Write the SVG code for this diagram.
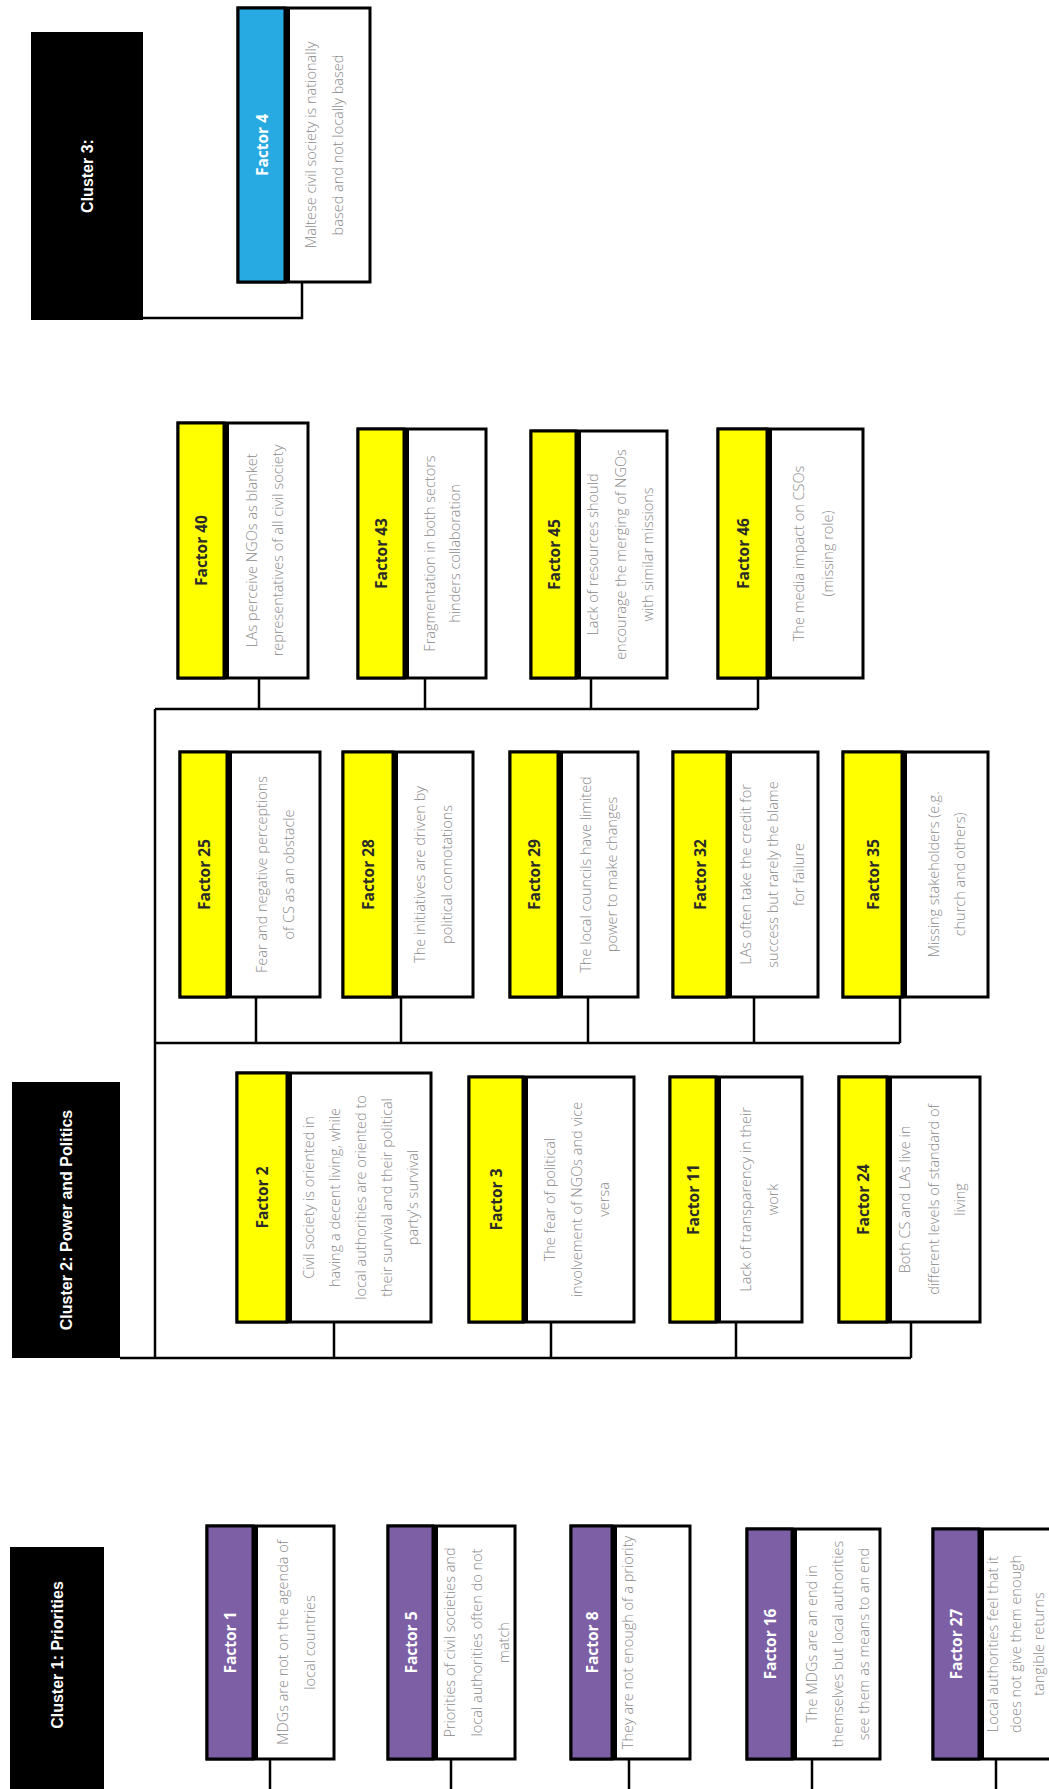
<svg xmlns="http://www.w3.org/2000/svg" width="1049" height="1789" viewBox="0 0 1049 1789">
<style>
.bg{fill:#fff}
.cl{fill:#000}
.clt{font-family:"Liberation Sans",Arial,sans-serif;font-weight:bold;font-size:16px;fill:#fff;text-anchor:middle;dominant-baseline:central}
.box{fill:#fff;stroke:#000;stroke-width:3}
.yel{fill:#FFFF00;stroke:#000;stroke-width:3}
.pur{fill:#7D5FA6;stroke:#000;stroke-width:3}
.blu{fill:#27AAE1;stroke:#000;stroke-width:3}
.div{stroke:#000;stroke-width:5}
.hd{font-family:"Open Sans","DejaVu Sans",sans-serif;font-weight:bold;font-size:15.5px;text-anchor:middle;dominant-baseline:central}
.hdk{fill:#2a2a2a}
.hdw{fill:#fff}
.bd{font-family:"Open Sans","DejaVu Sans",sans-serif;font-weight:300;font-size:14.5px;fill:#8a8a8a;text-anchor:middle;dominant-baseline:central}
.cn{fill:none;stroke:#000;stroke-width:2.5}
</style>
<rect class="bg" x="0" y="0" width="1049" height="1789"/>

<g id="connectors">
<path class="cn" d="M143,318 H302 V282"/>
<path class="cn" d="M155,709 V1358 M120,1358 H911"/>
<path class="cn" d="M334,1322 V1358 M551,1322 V1358 M736,1322 V1358 M911,1322 V1358"/>
<path class="cn" d="M155,1043 H900 M256,997 V1043 M401,997 V1043 M588,997 V1043 M754,997 V1043 M900,997 V1043"/>
<path class="cn" d="M155,709 H758 M259,678 V709 M425,678 V709 M591,678 V709 M758,678 V709"/>
<path class="cn" d="M270,1759 V1789 M451,1759 V1789 M629,1759 V1789 M812,1759 V1789 M996,1759 V1789"/>
</g>

<g id="cluster3">
<rect class="cl" x="31" y="32" width="112" height="288"/>
<text class="clt" transform="translate(87 176) rotate(-90)">Cluster 3:</text>
</g>
<g id="cluster2">
<rect class="cl" x="12" y="1082" width="108" height="276"/>
<text class="clt" transform="translate(66 1220) rotate(-90)">Cluster 2: Power and Politics</text>
</g>
<g id="cluster1">
<rect class="cl" x="10" y="1547" width="94" height="260"/>
<text class="clt" transform="translate(57 1655) rotate(-90)">Cluster 1: Priorities</text>
</g>

<g id="factor4">
<rect class="box" x="238" y="8" width="132" height="274"/>
<rect class="blu" x="238" y="8" width="47" height="274"/>
<line class="div" x1="287.5" y1="8" x2="287.5" y2="282"/>
<text class="hd hdw" transform="translate(261.5 145) rotate(-90)">Factor 4</text>
<text class="bd" transform="translate(310 145) rotate(-90)">Maltese civil society is nationally</text>
<text class="bd" transform="translate(337 145) rotate(-90)">based and not locally based</text>
</g>

<g id="factor40">
<rect class="box" x="178" y="423" width="130" height="255"/>
<rect class="yel" x="178" y="423" width="46" height="255"/>
<line class="div" x1="226.5" y1="423" x2="226.5" y2="678"/>
<text class="hd hdk" transform="translate(201 550.5) rotate(-90)">Factor 40</text>
<text class="bd" transform="translate(251 550.5) rotate(-90)">LAs perceive NGOs as blanket</text>
<text class="bd" transform="translate(277 550.5) rotate(-90)">representatives of all civil society</text>
</g>
<g id="factor43">
<rect class="box" x="358" y="429" width="128" height="249"/>
<rect class="yel" x="358" y="429" width="46" height="249"/>
<line class="div" x1="406.5" y1="429" x2="406.5" y2="678"/>
<text class="hd hdk" transform="translate(381 553.5) rotate(-90)">Factor 43</text>
<text class="bd" transform="translate(429 553.5) rotate(-90)">Fragmentation in both sectors</text>
<text class="bd" transform="translate(454 553.5) rotate(-90)">hinders collaboration</text>
</g>
<g id="factor45">
<rect class="box" x="531" y="431" width="136" height="247"/>
<rect class="yel" x="531" y="431" width="45" height="247"/>
<line class="div" x1="578.5" y1="431" x2="578.5" y2="678"/>
<text class="hd hdk" transform="translate(553.5 554.5) rotate(-90)">Factor 45</text>
<text class="bd" transform="translate(592 554.5) rotate(-90)">Lack of resources should</text>
<text class="bd" transform="translate(620 554.5) rotate(-90)">encourage the merging of NGOs</text>
<text class="bd" transform="translate(647 554.5) rotate(-90)">with similar missions</text>
</g>
<g id="factor46">
<rect class="box" x="718" y="429" width="145" height="249"/>
<rect class="yel" x="718" y="429" width="49" height="249"/>
<line class="div" x1="769.5" y1="429" x2="769.5" y2="678"/>
<text class="hd hdk" transform="translate(742.5 553.5) rotate(-90)">Factor 46</text>
<text class="bd" transform="translate(798 553.5) rotate(-90)">The media impact on CSOs</text>
<text class="bd" transform="translate(827 553.5) rotate(-90)">(missing role)</text>
</g>

<g id="factor25">
<rect class="box" x="180" y="752" width="140" height="245"/>
<rect class="yel" x="180" y="752" width="47" height="245"/>
<line class="div" x1="229.5" y1="752" x2="229.5" y2="997"/>
<text class="hd hdk" transform="translate(203.5 874.5) rotate(-90)">Factor 25</text>
<text class="bd" transform="translate(261 874.5) rotate(-90)">Fear and negative perceptions</text>
<text class="bd" transform="translate(288 874.5) rotate(-90)">of CS as an obstacle</text>
</g>
<g id="factor28">
<rect class="box" x="343" y="752" width="130" height="245"/>
<rect class="yel" x="343" y="752" width="50" height="245"/>
<line class="div" x1="395.5" y1="752" x2="395.5" y2="997"/>
<text class="hd hdk" transform="translate(368 874.5) rotate(-90)">Factor 28</text>
<text class="bd" transform="translate(419 874.5) rotate(-90)">The initiatives are driven by</text>
<text class="bd" transform="translate(446 874.5) rotate(-90)">political connotations</text>
</g>
<g id="factor29">
<rect class="box" x="510" y="752" width="128" height="245"/>
<rect class="yel" x="510" y="752" width="48" height="245"/>
<line class="div" x1="560.5" y1="752" x2="560.5" y2="997"/>
<text class="hd hdk" transform="translate(534 874.5) rotate(-90)">Factor 29</text>
<text class="bd" transform="translate(585 874.5) rotate(-90)">The local councils have limited</text>
<text class="bd" transform="translate(611 874.5) rotate(-90)">power to make changes</text>
</g>
<g id="factor32">
<rect class="box" x="673" y="752" width="145" height="245"/>
<rect class="yel" x="673" y="752" width="54" height="245"/>
<line class="div" x1="729.5" y1="752" x2="729.5" y2="997"/>
<text class="hd hdk" transform="translate(700 874.5) rotate(-90)">Factor 32</text>
<text class="bd" transform="translate(745 874.5) rotate(-90)">LAs often take the credit for</text>
<text class="bd" transform="translate(772 874.5) rotate(-90)">success but rarely the blame</text>
<text class="bd" transform="translate(798 874.5) rotate(-90)">for failure</text>
</g>
<g id="factor35">
<rect class="box" x="843" y="752" width="145" height="245"/>
<rect class="yel" x="843" y="752" width="59" height="245"/>
<line class="div" x1="904.5" y1="752" x2="904.5" y2="997"/>
<text class="hd hdk" transform="translate(872.5 874.5) rotate(-90)">Factor 35</text>
<text class="bd" transform="translate(933 874.5) rotate(-90)">Missing stakeholders (e.g.</text>
<text class="bd" transform="translate(959 874.5) rotate(-90)">church and others)</text>
</g>

<g id="factor2">
<rect class="box" x="237" y="1073" width="194" height="249"/>
<rect class="yel" x="237" y="1073" width="50" height="249"/>
<line class="div" x1="289.5" y1="1073" x2="289.5" y2="1322"/>
<text class="hd hdk" transform="translate(262 1197.5) rotate(-90)">Factor 2</text>
<text class="bd" transform="translate(308 1197.5) rotate(-90)">Civil society is oriented in</text>
<text class="bd" transform="translate(334 1197.5) rotate(-90)">having a decent living, while</text>
<text class="bd" transform="translate(360 1197.5) rotate(-90)">local authorities are oriented to</text>
<text class="bd" transform="translate(386 1197.5) rotate(-90)">their survival and their political</text>
<text class="bd" transform="translate(412 1197.5) rotate(-90)">party's survival</text>
</g>
<g id="factor3">
<rect class="box" x="469" y="1077" width="165" height="245"/>
<rect class="yel" x="469" y="1077" width="54" height="245"/>
<line class="div" x1="525.5" y1="1077" x2="525.5" y2="1322"/>
<text class="hd hdk" transform="translate(496 1199.5) rotate(-90)">Factor 3</text>
<text class="bd" transform="translate(549 1199.5) rotate(-90)">The fear of political</text>
<text class="bd" transform="translate(576 1199.5) rotate(-90)">involvement of NGOs and vice</text>
<text class="bd" transform="translate(603 1199.5) rotate(-90)">versa</text>
</g>
<g id="factor11">
<rect class="box" x="670" y="1077" width="132" height="245"/>
<rect class="yel" x="670" y="1077" width="46" height="245"/>
<line class="div" x1="718.5" y1="1077" x2="718.5" y2="1322"/>
<text class="hd hdk" transform="translate(693 1199.5) rotate(-90)">Factor 11</text>
<text class="bd" transform="translate(745 1199.5) rotate(-90)">Lack of transparency in their</text>
<text class="bd" transform="translate(772 1199.5) rotate(-90)">work</text>
</g>
<g id="factor24">
<rect class="box" x="839" y="1077" width="141" height="245"/>
<rect class="yel" x="839" y="1077" width="48" height="245"/>
<line class="div" x1="889.5" y1="1077" x2="889.5" y2="1322"/>
<text class="hd hdk" transform="translate(863 1199.5) rotate(-90)">Factor 24</text>
<text class="bd" transform="translate(904 1199.5) rotate(-90)">Both CS and LAs live in</text>
<text class="bd" transform="translate(933 1199.5) rotate(-90)">different levels of standard of</text>
<text class="bd" transform="translate(959 1199.5) rotate(-90)">living</text>
</g>

<g id="factor1">
<rect class="box" x="207" y="1526" width="127" height="233"/>
<rect class="pur" x="207" y="1526" width="46" height="233"/>
<line class="div" x1="255.5" y1="1526" x2="255.5" y2="1759"/>
<text class="hd hdw" transform="translate(230 1642.5) rotate(-90)">Factor 1</text>
<text class="bd" transform="translate(282 1642.5) rotate(-90)">MDGs are not on the agenda of</text>
<text class="bd" transform="translate(309 1642.5) rotate(-90)">local countries</text>
</g>
<g id="factor5">
<rect class="box" x="388" y="1526" width="127" height="233"/>
<rect class="pur" x="388" y="1526" width="45" height="233"/>
<line class="div" x1="435.5" y1="1526" x2="435.5" y2="1759"/>
<text class="hd hdw" transform="translate(410.5 1642.5) rotate(-90)">Factor 5</text>
<text class="bd" transform="translate(449 1642.5) rotate(-90)">Priorities of civil societies and</text>
<text class="bd" transform="translate(476 1642.5) rotate(-90)">local authorities often do not</text>
<text class="bd" transform="translate(503 1642.5) rotate(-90)">match</text>
</g>
<g id="factor8">
<rect class="box" x="571" y="1526" width="119" height="233"/>
<rect class="pur" x="571" y="1526" width="41" height="233"/>
<line class="div" x1="614.5" y1="1526" x2="614.5" y2="1759"/>
<text class="hd hdw" transform="translate(591.5 1642.5) rotate(-90)">Factor 8</text>
<text class="bd" transform="translate(627 1642.5) rotate(-90)">They are not enough of a priority</text>
</g>
<g id="factor16">
<rect class="box" x="747" y="1529" width="133" height="230"/>
<rect class="pur" x="747" y="1529" width="45" height="230"/>
<line class="div" x1="794.5" y1="1529" x2="794.5" y2="1759"/>
<text class="hd hdw" transform="translate(769.5 1644) rotate(-90)">Factor 16</text>
<text class="bd" transform="translate(811 1644) rotate(-90)">The MDGs are an end in</text>
<text class="bd" transform="translate(837 1644) rotate(-90)">themselves but local authorities</text>
<text class="bd" transform="translate(863 1644) rotate(-90)">see them as means to an end</text>
</g>
<g id="factor27">
<rect class="box" x="933" y="1529" width="132" height="230"/>
<rect class="pur" x="933" y="1529" width="46" height="230"/>
<line class="div" x1="981.5" y1="1529" x2="981.5" y2="1759"/>
<text class="hd hdw" transform="translate(956 1644) rotate(-90)">Factor 27</text>
<text class="bd" transform="translate(992 1644) rotate(-90)">Local authorities feel that it</text>
<text class="bd" transform="translate(1015 1644) rotate(-90)">does not give them enough</text>
<text class="bd" transform="translate(1038 1644) rotate(-90)">tangible returns</text>
</g>
</svg>
